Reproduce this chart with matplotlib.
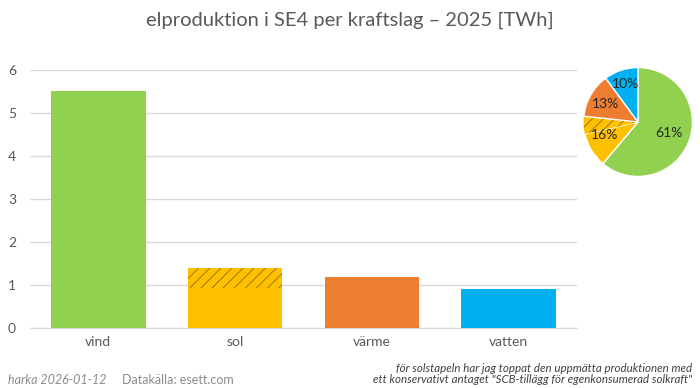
import matplotlib
matplotlib.use('Agg')
import matplotlib.pyplot as plt
import numpy as np

plt.rcParams['font.family'] = ['Lato', 'DejaVu Sans']
plt.rcParams['hatch.linewidth'] = 0.6

# data (TWh)
kraftslag = ['vind', 'sol', 'värme', 'vatten']
uppmatt = [5.51, 0.93, 1.19, 0.91]
sol_tillagg = [0, 0.47, 0, 0]
farger = ['#92D050', '#FFC000', '#ED7D31', '#00B0F0']
pie_labels = ['61%', '16%', '13%', '10%']

fig = plt.figure(figsize=(7, 3.88), dpi=100)
ax = fig.add_axes([30/700, 1-328/388, 547/700, 258/388])

x = np.arange(len(kraftslag))
ax.bar(x, uppmatt, width=0.69, color=farger, zorder=3)
ax.bar(x, sol_tillagg, bottom=uppmatt, width=0.69, color=farger,
       hatch='///', edgecolor='#8a6d00', linewidth=0, zorder=3)

ax.set_xlim(-0.5, 3.5)
ax.set_ylim(0, 6)
ax.set_yticks(range(7))
ax.set_xticks(x)
ax.set_xticklabels(kraftslag)
ax.yaxis.grid(True, color='#D9D9D9', linewidth=1, zorder=0)
for s in ['top', 'right', 'left']:
    ax.spines[s].set_visible(False)
ax.spines['bottom'].set_color('#D9D9D9')
ax.tick_params(axis='both', length=0, labelsize=10, colors='#595959', pad=6)
ax.tick_params(axis='y', pad=10)

fig.text(0.5, 1-20/388, 'elproduktion i SE4 per kraftslag \u2013 2025 [TWh]',
         ha='center', va='center', fontsize=14.5, color='#595959')

# pie
pr = 55
pax = fig.add_axes([(638-pr)/700, 1-(122+pr)/388, 2*pr/700, 2*pr/388])
pie_vals = [uppmatt[0], uppmatt[1], sol_tillagg[1], uppmatt[2], uppmatt[3]]
pie_cols = [farger[0], farger[1], farger[1], farger[2], farger[3]]
wedges, _ = pax.pie(pie_vals, colors=pie_cols, startangle=90, counterclock=False,
                    wedgeprops=dict(edgecolor='white', linewidth=1))
wedges[2].set_hatch('///')
wedges[2].set_edgecolor('#8a6d00')
wedges[2].set_linewidth(0)
pax.set_xlim(-1.01, 1.01)
pax.set_ylim(-1.01, 1.01)

# label positions (angle midpoints)
tot = sum(pie_vals)
grupper = [[0], [1, 2], [3], [4]]
radier = [0.6, 0.66, 0.68, 0.74]
cum = 0
for g, lab, r in zip(grupper, pie_labels, radier):
    v = sum(pie_vals[i] for i in g)
    ang = 90 - 360 * (cum + v / 2) / tot
    cum += v
    pax.text(r*np.cos(np.radians(ang)), r*np.sin(np.radians(ang)), lab,
             ha='center', va='center', fontsize=10, color='#262626')

fig.text(8/700, 1-380/388, 'harka 2026-01-12', style='italic', fontsize=9,
         color='#8c8c8c', va='center')
fig.text(122/700, 1-380/388, 'Datakälla: esett.com', fontsize=9,
         color='#8c8c8c', va='center')
fig.text(692/700, 1-374/388,
         'för solstapeln har jag toppat den uppmätta produktionen med\n'
         'ett konservativt antaget "SCB-tillägg för egenkonsumerad solkraft"',
         style='italic', fontsize=8.3, color='#404040', ha='right', va='center',
         linespacing=1.0)

fig.savefig('out.png', dpi=100)
